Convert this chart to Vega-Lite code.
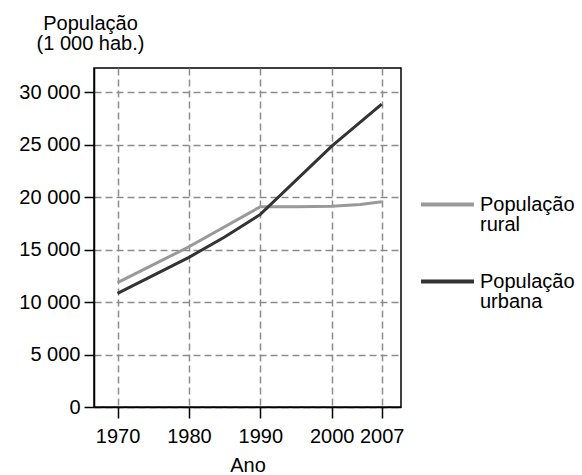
{
  "$schema": "https://vega.github.io/schema/vega-lite/v6.json",
  "autosize": "none",
  "width": 307,
  "height": 339,
  "padding": {"left": 94, "top": 68, "right": 181, "bottom": 68},
  "background": "white",
  "config": {
    "view": {"stroke": "black", "strokeWidth": 1.5},
    "font": "Liberation Sans",
    "axis": {
      "labelFont": "Liberation Sans", "titleFont": "Liberation Sans",
      "labelFontSize": 20, "titleFontSize": 20,
      "labelColor": "black", "titleColor": "black",
      "titleFontWeight": "normal",
      "tickColor": "black", "tickWidth": 1.5,
      "domainColor": "black", "domainWidth": 1.5,
      "gridColor": "#8c8c8c", "gridWidth": 1.5, "gridDash": [7, 4], "gridOpacity": 1
    },
    "legend": {"labelFont": "Liberation Sans", "labelFontSize": 20, "labelColor": "black"}
  },
  "data": {
    "values": [
      {"ano": 1970, "pop": 11850, "serie": "rural"},
      {"ano": 1980, "pop": 15270, "serie": "rural"},
      {"ano": 1990, "pop": 19080, "serie": "rural"},
      {"ano": 1995, "pop": 19070, "serie": "rural"},
      {"ano": 2000, "pop": 19120, "serie": "rural"},
      {"ano": 2004, "pop": 19300, "serie": "rural"},
      {"ano": 2007, "pop": 19550, "serie": "rural"},
      {"ano": 1970, "pop": 10830, "serie": "urbana"},
      {"ano": 1980, "pop": 14260, "serie": "urbana"},
      {"ano": 1985, "pop": 16200, "serie": "urbana"},
      {"ano": 1990, "pop": 18350, "serie": "urbana"},
      {"ano": 2000, "pop": 24860, "serie": "urbana"},
      {"ano": 2007, "pop": 28860, "serie": "urbana"}
    ]
  },
  "mark": {"type": "line", "strokeWidth": 3},
  "encoding": {
    "x": {
      "field": "ano", "type": "quantitative",
      "scale": {"domain": [1966.7, 2009.7], "nice": false, "zero": false},
      "axis": {
        "values": [1970, 1980, 1990, 2000, 2007], "format": "d",
        "tickSize": 11, "labelPadding": 8, "labelFlush": false,
        "title": "Ano", "titleY": 64, "titleBaseline": "alphabetic"
      }
    },
    "y": {
      "field": "pop", "type": "quantitative",
      "scale": {"domain": [0, 32300], "nice": false},
      "axis": {
        "values": [0, 5000, 10000, 15000, 20000, 25000, 30000],
        "labelExpr": "replace(format(datum.value, ','), ',', ' ')",
        "tickSize": 10, "labelPadding": 4,
        "title": ["População", "(1 000 hab.)"],
        "titleAngle": 0, "titleAlign": "center", "titleBaseline": "alphabetic",
        "titleX": -4, "titleY": -39, "titleLineHeight": 20
      }
    },
    "color": {
      "field": "serie", "type": "nominal",
      "scale": {"domain": ["rural", "urbana"], "range": ["#999999", "#333333"]},
      "legend": {
        "title": null, "orient": "none", "legendX": 325, "legendY": 108,
        "symbolType": "stroke", "symbolSize": 2809, "symbolStrokeWidth": 4,
        "labelOffset": 4, "rowPadding": 18,
        "labelExpr": "datum.label == 'rural' ? ['População', 'rural'] : ['População', 'urbana']",
        "labelBaseline": "middle", "labelLimit": 200,
        "encode": {"labels": {"update": {"lineHeight": {"value": 20}}}}
      }
    }
  }
}
